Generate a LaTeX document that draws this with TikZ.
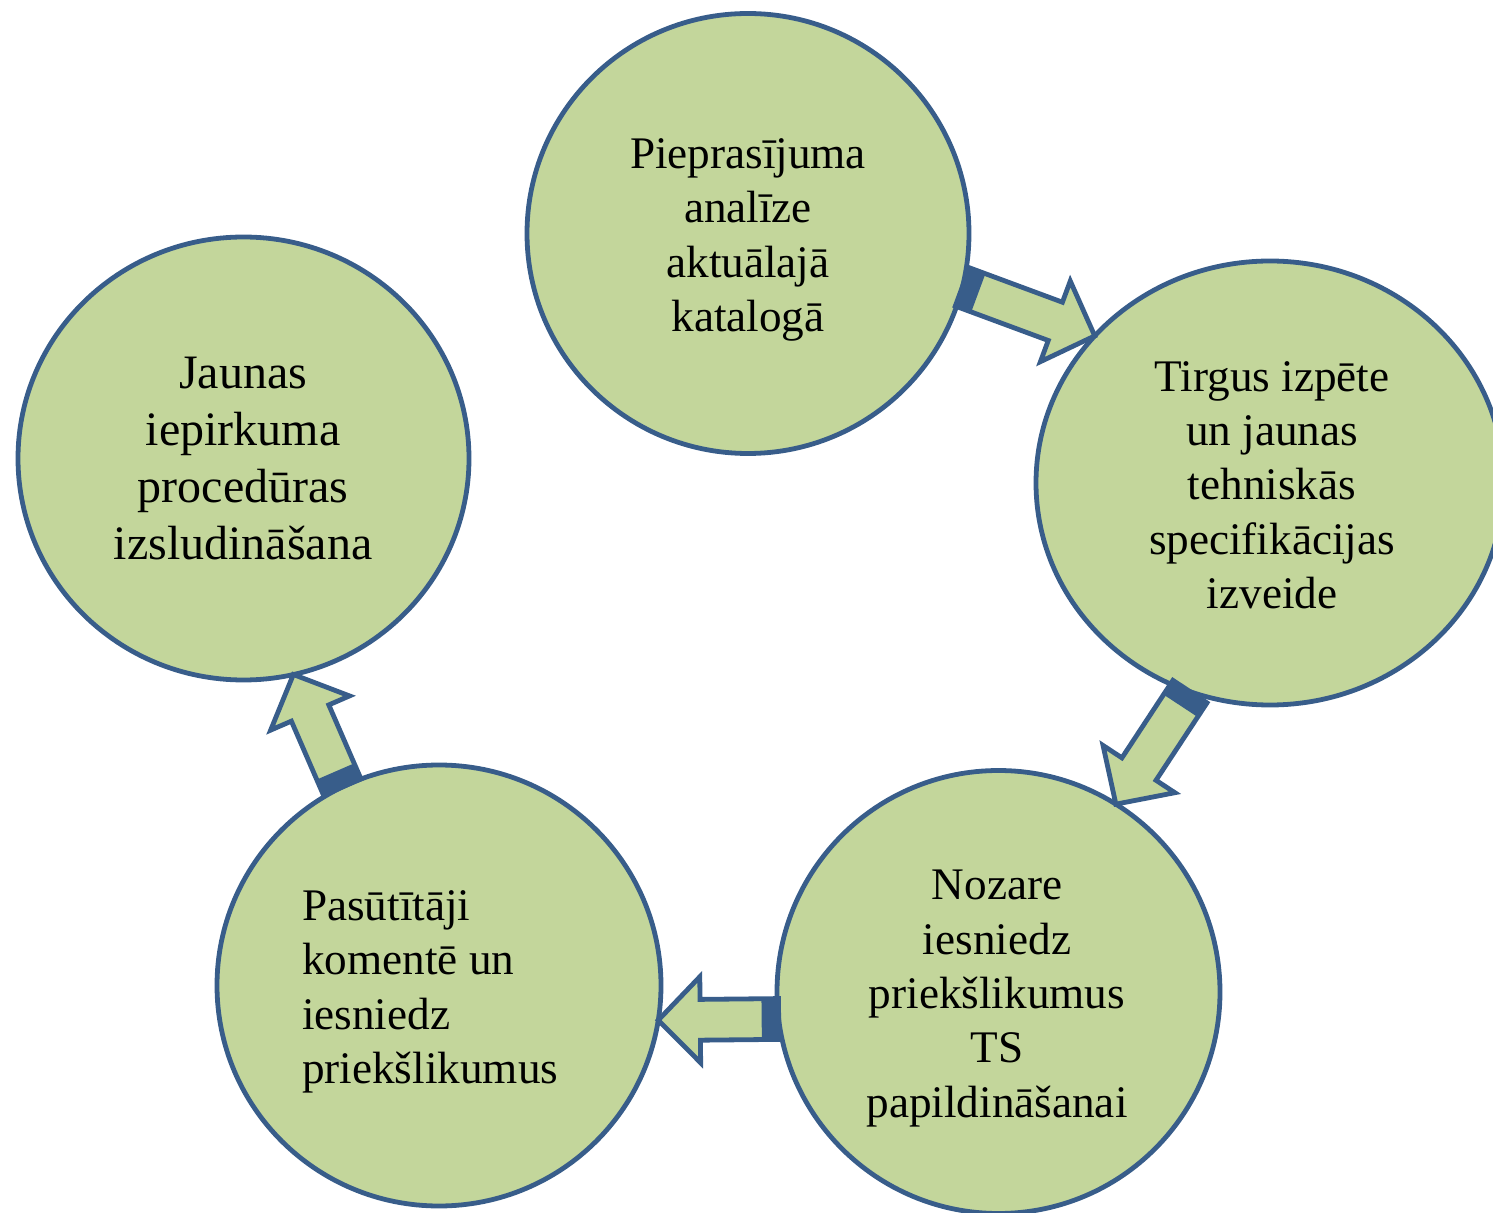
\documentclass[tikz,border=0pt]{standalone}
\usepackage{fontspec}
\setmainfont{Liberation Serif}
\usetikzlibrary{shapes.geometric,calc}
\definecolor{fillc}{HTML}{C3D69B}
\definecolor{bordc}{HTML}{385D8A}
\tikzset{
  circ/.style={ellipse, draw=bordc, fill=fillc, line width=2.4pt, outer sep=0pt, inner sep=0pt},
  barrow/.style={draw=bordc, fill=fillc, line width=2.4pt},
  txt/.style={inner sep=0pt, align=center, font=\fontsize{22.6pt}{27.15pt}\selectfont},
}
\newcommand\blockarrow[3]{%
  \coordinate (#3h) at ($(#2)!21pt!(#1)$);
  \coordinate (#3d) at ($(#1)!8.5pt!(#2)$);
  \draw[barrow] ($(#1)!10.2pt!90:(#2)$) -- ($(#3h)!10.2pt!90:(#2)$) -- ($(#3h)!21.5pt!90:(#2)$) -- (#2)
     -- ($(#3h)!21.5pt!-90:(#2)$) -- ($(#3h)!10.2pt!-90:(#2)$) -- ($(#1)!10.2pt!-90:(#2)$) -- cycle;
  \fill[bordc] ($(#1)!10.2pt!90:(#2)$) -- ($(#3d)!10.2pt!90:(#2)$) -- ($(#3d)!10.2pt!-90:(#2)$) -- ($(#1)!10.2pt!-90:(#2)$) -- cycle;
}
\begin{document}
\begin{tikzpicture}[x=0.5pt,y=-0.5pt]
\useasboundingbox (0,0) rectangle (1493,1213);
\node[circ, minimum width=221pt, minimum height=220pt] (c1) at (748,233.5) {};
\node[circ, minimum width=234pt, minimum height=222pt] (c2) at (1270,483) {};
\node[circ, minimum width=221.5pt, minimum height=221.5pt] (c3) at (998.5,992) {};
\node[circ, minimum width=222pt, minimum height=220.5pt] (c4) at (439,985.5) {};
\node[circ, minimum width=225.5pt, minimum height=221.5pt] (c5) at (243.5,458.5) {};

\node[txt] (t1) at (748,239.9) {Pieprasījuma\\analīze\\aktuālajā\\katalogā};
\node[txt] (t2) at (1272,485.2) {Tirgus izpēte\\un jaunas\\tehniskās\\specifikācijas\\izveide};
\node[txt] (t3) at (997,998.5) {Nozare\\iesniedz\\priekšlikumus\\TS\\papildināšanai};
\node[txt, align=left, anchor=west] (t4) at (301.7,991.8) {Pasūtītāji\\komentē un\\iesniedz\\priekšlikumus};
\node[txt, font=\fontsize{24pt}{28.5pt}\selectfont] (t5) at (243,458.6) {Jaunas\\iepirkuma\\procedūras\\izsludināšana};

\blockarrow{c1.-14}{c2.140}{a1}
\blockarrow{c2.-111}{c3.58}{a2}
\blockarrow{c3.187}{c4.-9}{a3}
\blockarrow{c4.116}{c5.-77}{a4}
\end{tikzpicture}
\end{document}
